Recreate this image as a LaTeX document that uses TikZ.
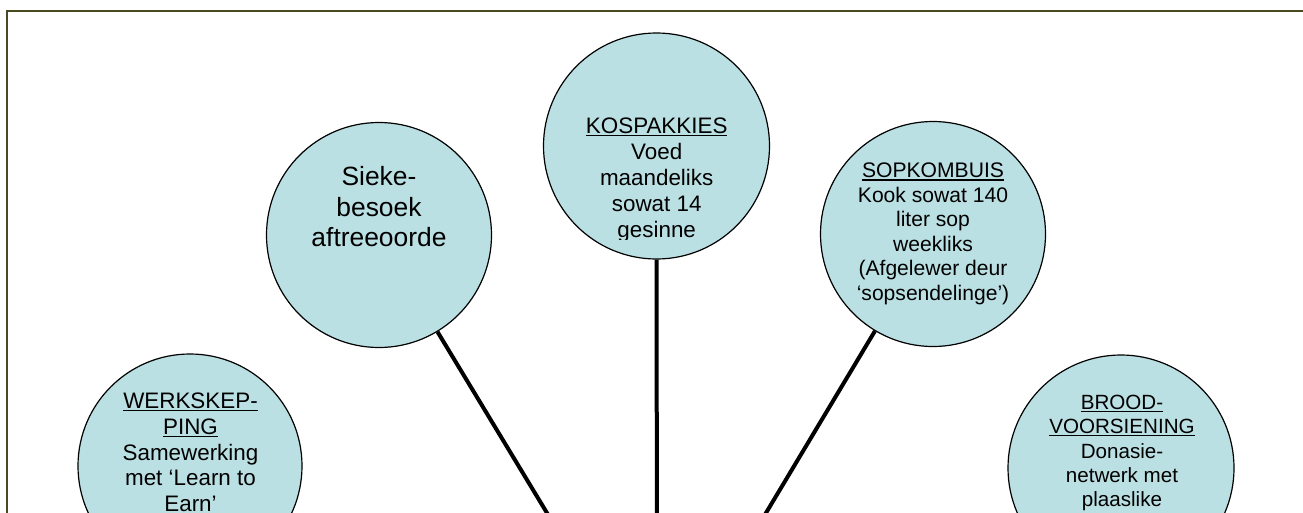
\documentclass[tikz,border=0pt]{standalone}
\usepackage{fontspec}
\setmainfont{Liberation Sans}
\definecolor{bubble}{HTML}{BBE0E3}
\definecolor{framecol}{HTML}{4A4A22}
\newcommand\ulbar[1]{\setbox0\hbox{#1}\rlap{\rule[-2.6pt]{\wd0}{1.1pt}}\box0}
\begin{document}
\begin{tikzpicture}[x=1pt,y=-1pt,
  bub/.style={circle,draw=black,line width=1.2pt,fill=bubble,inner sep=0pt,minimum size=#1},
  lbl/.style={anchor=north,inner sep=0pt,align=center,text=black},
  spoke/.style={line width=4pt,draw=black}]
\useasboundingbox (0,0) rectangle (1303,512);
\clip (0,0) rectangle (1303,512);
\fill[white] (0,0) rectangle (1303,512);
\draw[framecol,line width=2pt] (7,530) -- (7,11.3) -- (1320,11.3);

\coordinate (hub) at (657,695);

\node[bub=225] (sieke) at (379,235) {};
\node[bub=226] (kos) at (656.5,146) {};
\node[bub=225] (sop) at (933,234) {};
\node[bub=224] (werk) at (190,466) {};
\node[bub=226] (brood) at (1121,468) {};

\draw[spoke] (sieke) -- (hub);
\draw[spoke] (kos) -- (hub);
\draw[spoke] (sop) -- (hub);

\node[lbl,font=\fontsize{26.4}{30.5}\selectfont] (siekeT) at (379,166.5) {Sieke-\\besoek\\aftreeoorde};

\begin{scope}
\clip (540,100) rectangle (775,239.5);
\node[lbl,font=\fontsize{22.4}{26}\selectfont] (kosT) at (656.7,118) {\ulbar{KOSPAKKIES}\\Voed\\maandeliks\\sowat 14\\gesinne};
\end{scope}

\node[lbl,font=\fontsize{21.1}{24.5}\selectfont] (sopT) at (933,163) {\ulbar{SOPKOMBUIS}\\Kook sowat 140\\liter sop\\weekliks\\(Afgelewer deur\\‘sopsendelinge’)};

\node[lbl,font=\fontsize{22.4}{25.7}\selectfont] (werkT) at (190.5,393) {\ulbar{WERKSKEP-}\\\ulbar{PING}\\Samewerking\\met ‘Learn to\\Earn’};

\node[lbl,font=\fontsize{20.6}{24.3}\selectfont] (broodT) at (1122,395) {\ulbar{BROOD-}\\\ulbar{VOORSIENING}\\Donasie-\\netwerk met\\plaaslike};
\end{tikzpicture}
\end{document}
